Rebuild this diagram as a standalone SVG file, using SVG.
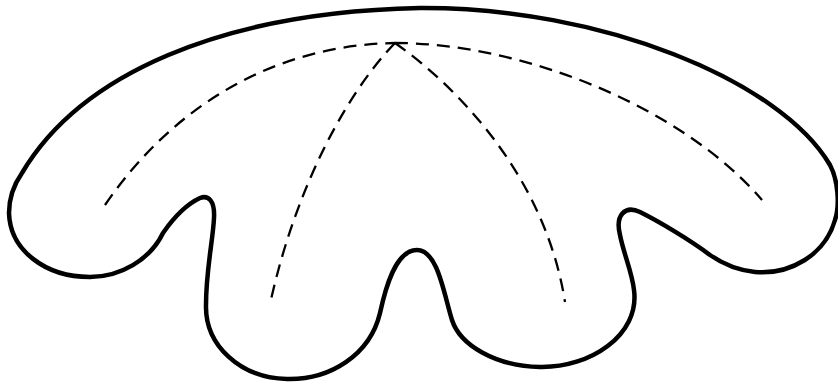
<svg xmlns="http://www.w3.org/2000/svg" width="838" height="383" viewBox="0 0 838 383">
<style>
.outline{fill:none;stroke:#000;stroke-width:4.5;stroke-linejoin:round}
.dash{fill:none;stroke:#000;stroke-width:2.3;stroke-dasharray:13 8}
</style>
<rect width="838" height="383" fill="#fff"/>
<g id="shell">
<path class="outline" d="M22,173 C80,75 220,12 420,8 C600,7 780,80 830,165 C838,180 840,205 835,220 C825,255 790,275 755,272 C735,270 720,262 710,255 C690,240 660,222 640,212 C625,205 615,215 620,235 C624,255 632,272 634,290 C640,335 590,368 540,367 C495,366 460,345 452,320 C444,295 438,250 417,250 C395,250 385,290 380,313 C370,355 330,380 287,379 C240,378 205,345 206,305 C206,270 213,240 214,218 C215,200 208,195 200,198 C185,205 172,220 163,233 C150,260 120,277 90,277 C45,277 10,250 9,213 C9,195 15,183 22,173 Z"/>
</g>
<g id="connectors">
<path class="dash" d="M105,205 C170,110 270,45 395,43"/>
<path class="dash" d="M395,43 C520,43 680,105 762,200"/>
<path class="dash" d="M395,43 C345,95 295,190 270,304"/>
<path class="dash" d="M395,43 C455,85 545,175 565,302"/>
</g>
</svg>
